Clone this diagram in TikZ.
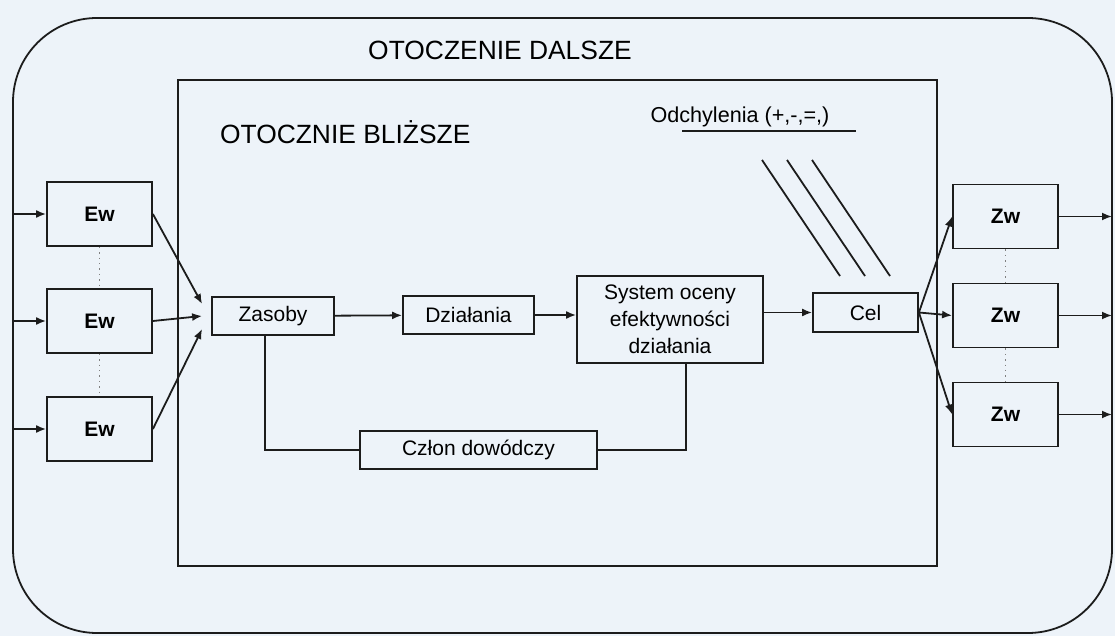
\documentclass[tikz,border=0pt]{standalone}
\usepackage{fontspec}
\setmainfont{Liberation Sans}
\usepackage{tikz}
\usetikzlibrary{arrows.meta}
\definecolor{tlo}{RGB}{237,243,249}
\definecolor{kreska}{RGB}{28,28,28}
\tikzset{
  blok/.style={draw=kreska, line width=0.9pt, fill=tlo, inner sep=0pt, align=center,
    font=\fontsize{10.5}{13.5}\selectfont},
  ewzw/.style={blok, minimum width=52.5pt, minimum height=32pt,
    font=\bfseries\fontsize{10.5}{13.5}\selectfont},
  linia/.style={draw=kreska, line width=0.9pt},
  strzalka/.style={linia, -{Latex[length=5pt,width=4pt]}},
  kropki/.style={draw=gray, line width=0.7pt, dotted},
  tytul/.style={font=\fontsize{13.2}{16}\selectfont}
}

\begin{document}
\begin{tikzpicture}[x=0.5pt, y=-0.5pt]
		\fill[tlo] (0,0) rectangle (1115,636);
		\useasboundingbox (0,0) rectangle (1115,636);
		% otoczenie dalsze i blizsze
		\draw[linia, rounded corners=42pt] (13,18) rectangle (1112,633);
		\draw[linia] (178,80) rectangle (937,566);
		\node[tytul] (dalsze) at (500,50) {OTOCZENIE DALSZE};
		\node[tytul, anchor=west] (blizsze) at (213,132) {OTOCZNIE BLIŻSZE};
		% wejscia
		\foreach \i/\y in {1/214, 2/321, 3/429} {
			\node[ewzw] (ew\i) at (99.5,\y) {Ew};
			\coordinate (we\i) at (13,\y);
			\draw[strzalka] (we\i) -- (ew\i.west);
		}
		\draw[kropki] (ew1.south) -- (ew2.north) (ew2.south) -- (ew3.north);
		% wyjscia
		\foreach \i/\y in {1/216.5, 2/315.5, 3/414.5} {
			\node[ewzw] (zw\i) at (1005.5,\y) {Zw};
			\coordinate (wy\i) at (1112,\y);
			\draw[strzalka] (zw\i.east) -- (wy\i);
		}
		\draw[kropki] (zw1.south) -- (zw2.north) (zw2.south) -- (zw3.north);
		% tor glowny
		\node[blok, minimum width=61pt, minimum height=19pt] (zasoby) at (273,316) {Zasoby};
		\node[blok, minimum width=65.5pt, minimum height=19pt] (dzialania) at (468.5,315) {Działania};
		\node[blok, minimum width=93pt, minimum height=43.5pt] (system) at (670,319.5)
			{System oceny\\efektywności\\działania};
		\node[blok, minimum width=52.5pt, minimum height=19.5pt] (cel) at (865.5,312.5) {Cel};
		\node[blok, minimum width=118.5pt, minimum height=19pt] (czlon) at (478.5,450) {Człon dowódczy};
		\draw[strzalka] (ew1.east) -- ([shift={(-9,-12)}]zasoby.west);
		\draw[strzalka] (ew2.east) -- ([xshift=-4.5pt]zasoby.west);
		\draw[strzalka] (ew3.east) -- ([shift={(-9,13)}]zasoby.west);
		\draw[strzalka] (zasoby) -- (dzialania);
		\draw[strzalka] (dzialania) -- (dzialania -| system.west);
		\draw[strzalka] (system.east |- cel.west) -- (cel.west);
		\foreach \i in {1,2,3} \draw[strzalka] (cel.east) -- (zw\i.west);
		\draw[linia] ([xshift=-4pt]zasoby.south) |- (czlon.west);
		\draw[linia] (czlon.east) -| ([xshift=8pt]system.south);
		% odchylenia
		\node[font=\fontsize{10.8}{13}\selectfont] (odch) at (740,117) {Odchylenia (+,-,=,)};
		\draw[linia] (682,131) -- (856,131);
		\foreach \d in {0,25,50} \draw[linia] (762+\d,160) -- (840+\d,276);
	\end{tikzpicture}
\end{document}
